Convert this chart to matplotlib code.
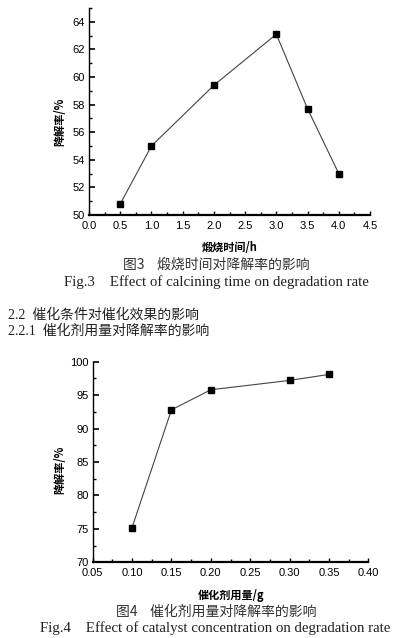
import matplotlib
matplotlib.use("Agg")
import matplotlib.pyplot as plt
from matplotlib.ticker import MultipleLocator

plt.rcParams['font.family'] = ['Liberation Sans', 'Noto Sans CJK SC', 'DejaVu Sans']

# Data
calc_time = [0.5, 1.0, 2.0, 3.0, 3.5, 4.0]
rate_time = [50.8, 55.0, 59.4, 63.1, 57.7, 53.0]
cat_dose = [0.10, 0.15, 0.20, 0.30, 0.35]
rate_dose = [75.2, 92.8, 95.8, 97.2, 98.1]

xlabel1 = "煅烧时间/h"
xlabel2 = "催化剂用量/g"
ylabel = "降解率/%"
cap1_cn = "图3    煅烧时间对降解率的影响"
cap1_en = "Fig.3    Effect of calcining time on degradation rate"
cap2_cn = "图4    催化剂用量对降解率的影响"
cap2_en = "Fig.4    Effect of catalyst concentration on degradation rate"
head1 = "2.2  催化条件对催化效果的影响"
head2 = "2.2.1  催化剂用量对降解率的影响"

W, H = 397, 638
fig = plt.figure(figsize=(W / 100, H / 100), dpi=100)

CJK = ['Noto Sans CJK SC', 'DejaVu Sans']
SERIF = ['Liberation Serif', 'Noto Sans CJK SC']


def style(ax):
    for s in ['top', 'right']:
        ax.spines[s].set_visible(False)
    ax.spines['left'].set_linewidth(1.0)
    ax.spines['bottom'].set_linewidth(1.6)
    ax.tick_params(axis='both', which='both', direction='in', labelsize=8, colors='black')
    ax.tick_params(axis='y', which='major', length=4, width=1.2, pad=3)
    ax.tick_params(axis='y', which='minor', length=2, width=1.0)
    ax.tick_params(axis='x', which='major', length=3, width=1.0, pad=4)
    ax.tick_params(axis='x', which='minor', length=2, width=1.0)


def fx(x):
    return x / W


def fy(y):
    return 1 - y / H


# Chart 1
ax1 = fig.add_axes([fx(89), fy(215), fx(370) - fx(89), fy(8) - fy(215)])
ax1.plot(calc_time, rate_time, color='#444444', lw=0.8, marker='s', ms=4,
         mfc='black', mec='black')
ax1.set_xlim(0, 4.5)
ax1.set_ylim(50, 65)
ax1.xaxis.set_major_locator(MultipleLocator(0.5))
ax1.xaxis.set_minor_locator(MultipleLocator(0.25))
ax1.yaxis.set_major_locator(MultipleLocator(2))
ax1.yaxis.set_minor_locator(MultipleLocator(1))
ax1.set_xticklabels([f"{v:.1f}" for v in ax1.get_xticks()])
style(ax1)

fig.text(fx(60), fy(122), ylabel, rotation=90, ha='center', va='center',
         fontsize=8, family=CJK, fontweight='bold')
fig.text(fx(230), fy(247), xlabel1, ha='center', va='center', fontsize=8,
         family=CJK, fontweight='bold')
fig.text(fx(216), fy(265), cap1_cn, ha='center', va='center', fontsize=10,
         family=CJK, color='#333333')
fig.text(fx(216), fy(282), cap1_en, ha='center', va='center', fontsize=10.7,
         family=SERIF, color='#222222')

fig.text(fx(8), fy(315), head1, ha='left', va='center', fontsize=10,
         family=['Liberation Serif', 'Noto Sans CJK SC'], color='#222222')
fig.text(fx(8), fy(331), head2, ha='left', va='center', fontsize=10,
         family=['Liberation Serif', 'Noto Sans CJK SC'], color='#222222')

# Chart 2
ax2 = fig.add_axes([fx(92.7), fy(562.3), fx(368.3) - fx(92.7), fy(361.7) - fy(562.3)])
ax2.plot(cat_dose, rate_dose, color='#444444', lw=0.8, marker='s', ms=4,
         mfc='black', mec='black')
ax2.set_xlim(0.05, 0.40)
ax2.set_ylim(70, 100)
ax2.xaxis.set_major_locator(MultipleLocator(0.05))
ax2.xaxis.set_minor_locator(MultipleLocator(0.025))
ax2.yaxis.set_major_locator(MultipleLocator(5))
ax2.yaxis.set_minor_locator(MultipleLocator(2.5))
ax2.set_xticklabels([f"{v:.2f}" for v in ax2.get_xticks()])
style(ax2)

fig.text(fx(60), fy(470), ylabel, rotation=90, ha='center', va='center',
         fontsize=8, family=CJK, fontweight='bold')
fig.text(fx(231), fy(595), xlabel2, ha='center', va='center', fontsize=8,
         family=CJK, fontweight='bold')
fig.text(fx(216), fy(612), cap2_cn, ha='center', va='center', fontsize=10,
         family=CJK, color='#333333')
fig.text(fx(215), fy(628), cap2_en, ha='center', va='center', fontsize=10.7,
         family=SERIF, color='#222222')

fig.savefig("out.png", dpi=100)
